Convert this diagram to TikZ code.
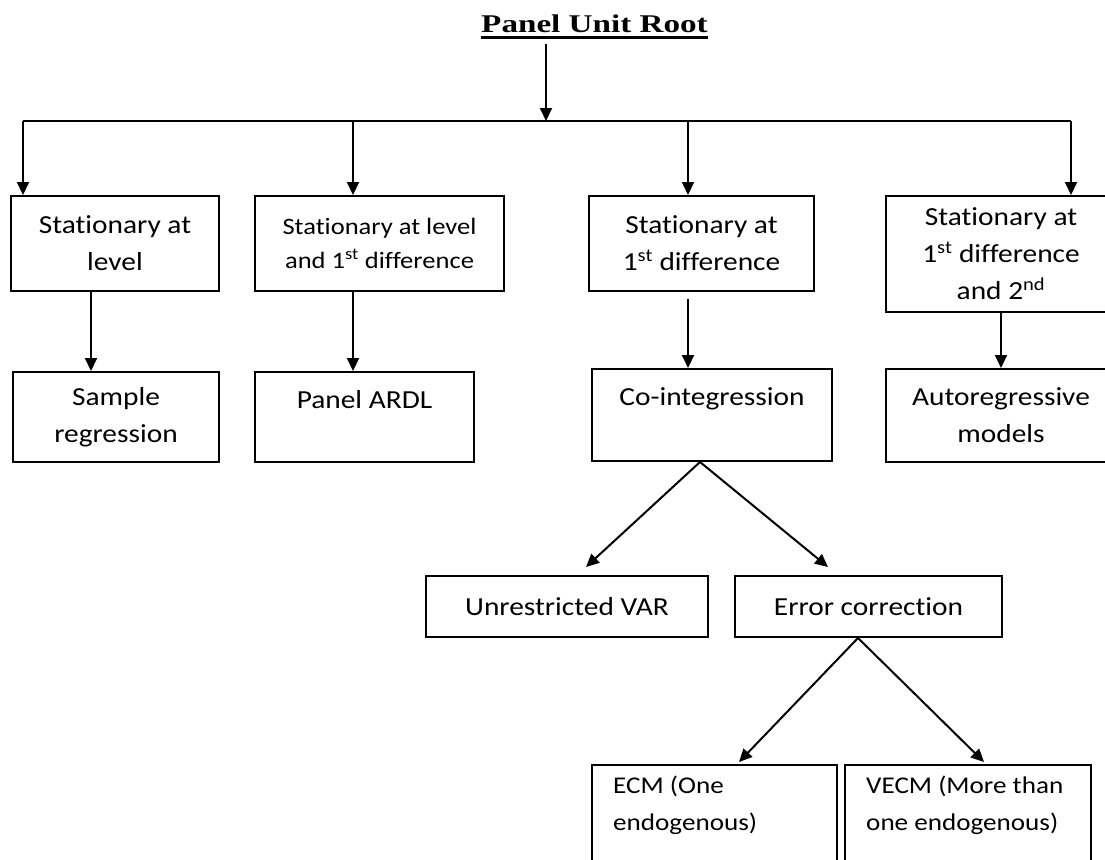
\documentclass[tikz,border=0pt]{standalone}
\usepackage{fontspec}
\setmainfont{Carlito}[FakeStretch=1.13,Ligatures=NoCommon]
\newfontfamily\titlefont{Liberation Serif}[FakeStretch=1.3]
\usetikzlibrary{arrows.meta}
\newcommand\ttlline[1]{\setbox0\hbox{#1}\rlap{\rule[-6.5pt]{\wd0}{3pt}}\box0}

\begin{document}
\begin{tikzpicture}[x=1pt,y=-1pt,
  box/.style={draw,line width=2pt,inner sep=0pt,align=center,font=\fontsize{26}{37}\selectfont},
  smallbox/.style={box,font=\fontsize{23.5}{34}\selectfont},
  lowtxt/.style={inner sep=0pt,align=left,anchor=north west,font=\fontsize{24}{37}\selectfont},
  arr/.style={line width=2pt,-{Triangle[length=13pt,width=12pt]}}]
\clip (0,0) rectangle (1105,859);
\node[inner sep=0pt,anchor=base,font=\titlefont\bfseries\fontsize{25.5}{30}\selectfont] (title) at (594.5,33) {\ttlline{Panel Unit Root}};
\coordinate (bus) at (546,121);
\coordinate (d1) at (23,121);
\coordinate (d2) at (353,121);
\coordinate (d3) at (688,121);
\coordinate (d4) at (1071,121);
\node[box,minimum width=208pt,minimum height=95pt] (lev) at (115,243.5) {Stationary at\\level};
\node[smallbox,minimum width=249pt,minimum height=95pt] (levdif) at (379.5,243.5) {Stationary at level\\and 1\textsuperscript{st} difference};
\node[box,minimum width=225pt,minimum height=95pt] (dif) at (701.5,243.5) {Stationary at\\1\textsuperscript{st} difference};
\node[box,minimum width=230pt,minimum height=116pt] (difsec) at (1001,254) {Stationary at\\1\textsuperscript{st} difference\\and 2\textsuperscript{nd}};
\node[box,minimum width=206pt,minimum height=90pt] (reg) at (116,417) {Sample\\regression};
\node[box,minimum width=219pt,text height=36pt,text depth=54pt] (ardl) at (364.5,417) {Panel ARDL};
\node[box,minimum width=240pt,text height=36pt,text depth=56pt] (coint) at (712,415) {Co-integression};
\node[box,minimum width=230pt,minimum height=93pt] (autoreg) at (1001,415.5) {Autoregressive\\models};
\node[box,minimum width=282pt,minimum height=61pt] (var) at (567,606.5) {Unrestricted VAR};
\node[box,minimum width=267pt,minimum height=61pt] (ecorr) at (868.5,606.5) {Error correction};
\node[draw,line width=2pt,inner sep=0pt,minimum width=245pt,minimum height=130pt,anchor=north west] (ecm) at (591,764) {};
\node[draw,line width=2pt,inner sep=0pt,minimum width=246pt,minimum height=130pt,anchor=north west] (vecm) at (844,764) {};
\node[lowtxt] (ecmtxt) at ([xshift=22pt,yshift=-12pt]ecm.north west) {ECM (One\\endogenous)};
\node[lowtxt] (vecmtxt) at ([xshift=22pt,yshift=-12pt]vecm.north west) {VECM (More than\\one endogenous)};
\draw[arr,shorten <=4pt] (title.south -| bus) -- (bus);
\draw[line width=2pt] (d1) -- (d4);
\foreach \d/\b in {d1/lev,d2/levdif,d3/dif,d4/difsec}
  \draw[arr] (\d) -- (\d |- \b.north);
\draw[arr] ([xshift=-24pt]lev.south) -- ([xshift=-24pt]lev.south |- reg.north);
\draw[arr] ([xshift=-26.5pt]levdif.south) -- ([xshift=-26.5pt]levdif.south |- ardl.north);
\draw[arr,shorten <=7pt] ([xshift=-13.5pt]dif.south) -- ([xshift=-13.5pt]dif.south |- coint.north);
\draw[arr] (difsec.south) -- (autoreg.north);
\draw[arr] ([xshift=-12pt]coint.south) -- ([xshift=19pt,yshift=8pt]var.north);
\draw[arr] ([xshift=-12pt]coint.south) -- ([xshift=-40.5pt,yshift=8pt]ecorr.north);
\draw[arr] ([xshift=-10.5pt]ecorr.south) -- ([xshift=24.5pt,yshift=2pt]ecm.north);
\draw[arr] ([xshift=-10.5pt]ecorr.south) -- ([xshift=16pt,yshift=2pt]vecm.north);
\end{tikzpicture}
\end{document}
